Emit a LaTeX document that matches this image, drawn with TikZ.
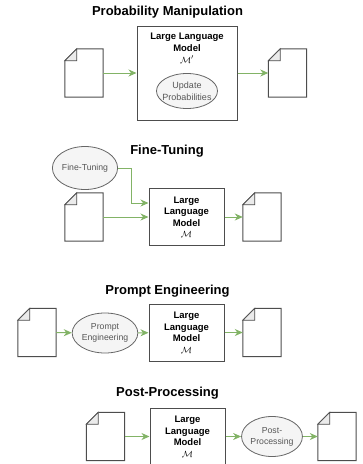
\documentclass[tikz,border=0pt]{standalone}
\usepackage{fontspec}
\setmainfont{Liberation Sans}
\usetikzlibrary{arrows.meta, shapes.geometric}
\definecolor{flowgreen}{HTML}{82B366}
\definecolor{edgegray}{HTML}{4D4D4D}
\definecolor{ellfill}{HTML}{F5F5F5}
\definecolor{ellline}{HTML}{666666}
\definecolor{foldgray}{HTML}{EBEBEB}
\tikzset{>={Stealth[length=8pt,width=7pt,inset=2.5pt]}}

% page with a folded corner, drawn over an empty node
\newcommand{\docshape}[1]{%
  \draw[edgegray, line width=1pt, fill=white] ([yshift=-12pt]#1.north west) -- ([xshift=12pt]#1.north west) -- (#1.north east) -- (#1.south east) -- (#1.south west) -- cycle;
  \filldraw[edgegray, line width=0.8pt, fill=foldgray] ([yshift=-12pt]#1.north west) -- ([xshift=12pt]#1.north west) -- ([shift={(12pt,-12pt)}]#1.north west) -- cycle;
}

\begin{document}
\begin{tikzpicture}[x=1pt, y=-1pt,
  heading/.style={font=\fontsize{13}{15}\selectfont\bfseries},
  llm/.style={draw=edgegray, line width=1pt, fill=white, minimum width=75pt, minimum height=57pt, inner sep=0pt, align=center, font=\fontsize{9.5}{11.5}\selectfont\bfseries},
  doc/.style={minimum width=38pt, minimum height=48pt, inner sep=0pt},
  proc/.style={ellipse, draw=ellline, fill=ellfill, line width=0.8pt, inner sep=0pt, align=center, text=ellline!85!black, font=\fontsize{8.7}{11}\selectfont},
  flow/.style={->, draw=flowgreen, line width=1pt}]
\useasboundingbox (0,0) rectangle (363,464);

% probability manipulation
\node[heading] (h1) at (167.5,12) {Probability Manipulation};
\node[draw=edgegray, line width=1pt, minimum width=100pt, minimum height=94pt] (llm1) at (187,73) {};
\node[align=center, font=\fontsize{9.5}{12}\selectfont\bfseries] (lbl1) at (187,48) {Large Language\\Model\\$\mathcal{M}'$};
\node[proc, minimum width=61pt, minimum height=35pt, inner xsep=-5pt, inner ysep=-1pt, font=\fontsize{9}{12}\selectfont] (upd) at (187,91) {Update\\Probabilities};
\node[doc] (d1a) at (84,73) {}; \docshape{d1a}
\node[doc] (d1b) at (287.5,73) {}; \docshape{d1b}
\draw[flow] (d1a) -- (llm1);
\draw[flow] (llm1) -- (d1b);

% fine-tuning
\node[heading] (h2) at (167,151) {Fine-Tuning};
\node[proc, minimum width=57pt, minimum height=43pt] (ft) at (85,168) {Fine-Tuning};
\node[llm] (llm2) at (186.5,217) {Large\\Language\\Model\\$\mathcal{M}$};
\node[doc] (d2a) at (84,217) {}; \docshape{d2a}
\node[doc] (d2b) at (262,217) {}; \docshape{d2b}
\coordinate (ftbend) at (131,168);
\draw[flow] (ft) -- (ftbend) |- ([yshift=14pt]llm2.west);
\draw[flow] (d2a) -- (llm2);
\draw[flow] (llm2) -- (d2b);

% prompt engineering
\node[heading] (h3) at (167.5,291) {Prompt Engineering};
\node[doc] (d3a) at (37,332.5) {}; \docshape{d3a}
\node[proc, minimum width=56pt, minimum height=40pt] (pe) at (105,333) {Prompt\\Engineering};
\node[llm] (llm3) at (186.5,332.5) {Large\\Language\\Model\\$\mathcal{M}$};
\node[doc] (d3b) at (262,332.5) {}; \docshape{d3b}
\draw[flow] (d3a) -- (pe);
\draw[flow] (pe) -- (llm3);
\draw[flow] (llm3) -- (d3b);

% post-processing
\node[heading] (h4) at (167.5,393) {Post-Processing};
\node[doc] (d4a) at (105.5,436.5) {}; \docshape{d4a}
\node[llm] (llm4) at (187.5,436.5) {Large\\Language\\Model\\$\mathcal{M}$};
\node[proc, minimum width=55pt, minimum height=40pt] (pp) at (272,436.5) {Post-\\Processing};
\node[doc] (d4b) at (337,436.5) {}; \docshape{d4b}
\draw[flow] (d4a) -- (llm4);
\draw[flow] (llm4) -- (pp);
\draw[flow] (pp) -- (d4b);
\end{tikzpicture}
\end{document}
